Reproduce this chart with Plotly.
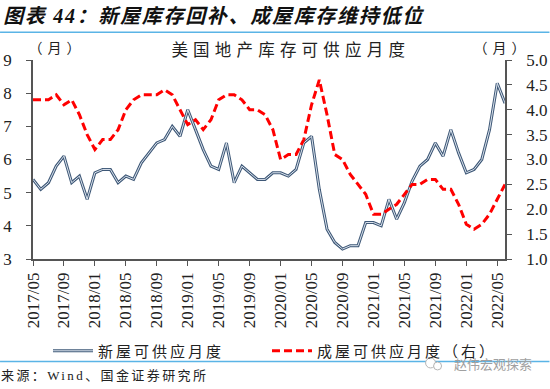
import plotly.graph_objects as go

months = [f"{y}/{m:02d}" for y in range(2017, 2023) for m in range(1, 13)][4:66]
new_home = [5.4,5.1,5.3,5.8,6.1,5.3,5.5,4.8,5.6,5.7,5.7,5.3,5.5,5.4,5.9,6.2,6.5,6.6,7.0,6.7,
            7.5,6.9,6.3,5.8,5.7,6.5,5.3,5.8,5.6,5.4,5.4,5.6,5.6,5.5,5.7,6.5,6.7,5.1,3.9,3.5,
            3.3,3.4,3.4,4.1,4.1,4.0,4.8,4.2,4.7,5.35,5.8,6.0,6.5,6.1,6.9,6.2,5.6,5.7,6.0,6.9,8.3,7.7]
existing = [4.2,4.2,4.2,4.3,4.1,4.2,3.9,3.5,3.2,3.4,3.4,3.6,4.0,4.2,4.3,4.3,4.3,4.4,4.3,4.0,
            3.7,3.8,3.6,3.8,4.2,4.3,4.3,4.2,4.0,4.0,3.9,3.6,3.0,3.1,3.1,3.4,4.1,4.6,3.9,3.1,
            3.0,2.7,2.5,2.3,1.9,1.9,2.0,2.1,2.3,2.5,2.5,2.6,2.6,2.4,2.4,2.1,1.7,1.6,1.7,1.9,2.2,2.5]
x_ticks = months[::4]

W, H = 550, 389
L, R, T, B = 33, 505.5, 59.5, 259.5
SERIF = "Liberation Serif, Noto Sans CJK SC"
CJK = "Noto Sans CJK SC"
AXIS = "#555555"
BLUE = "#5AB4E6"
px = lambda v: (v - L) / (R - L)
py = lambda v: (B - v) / (B - T)

fig = go.Figure()
fig.add_trace(go.Scatter(x=months, y=new_home, name="新屋可供应月度", mode="lines",
                         line=dict(color="#3E5877", width=3)))
fig.add_trace(go.Scatter(x=months, y=new_home, showlegend=False, hoverinfo="skip", mode="lines",
                         line=dict(color="#DCE4EE", width=1)))
fig.add_trace(go.Scatter(x=months, y=existing, name="成屋可供应月度（右）", mode="lines", yaxis="y2",
                         line=dict(color="#FF0000", width=3, dash="8px,4px")))

spacing = []
def note(text, x, y, size, anchor="center", color="#222222", family=SERIF, ls=0):
    fig.add_annotation(text=text, x=px(x), y=py(y), xref="paper", yref="paper", showarrow=False,
                       xanchor=anchor, yanchor="middle", font=dict(size=size, color=color, family=family))
    spacing.append(ls)

note("<b><i>图表 44：新屋库存回补、成屋库存维持低位</i></b>", 215, 15, 20, color="#111111", ls=1.7)
note("美国地产库存可供应月度", 291.5, 50, 16.5, ls=5.2)
note("（月）", 57.5, 48, 14, ls=5)
note("（月）", 502, 48, 14, ls=5)
note("来源：Wind、国金证券研究所", 105, 377, 13, ls=2.4)
note("赵伟宏观探索", 452, 365, 13, "left", color="#A0A0A0", family=CJK)

for yy in (31.5, 362.5):
    fig.add_shape(type="line", xref="paper", yref="paper", x0=px(0), x1=px(W), y0=py(yy), y1=py(yy),
                  line=dict(color=BLUE, width=1.5))
for (cx, cy, r) in ((431, 364, 5), (438, 367, 4)):
    fig.add_shape(type="circle", xref="paper", yref="paper", x0=px(cx-r), x1=px(cx+r), y0=py(cy-r), y1=py(cy+r),
                  line=dict(color="#B5B5B5", width=1), fillcolor="white")

axis_common = dict(showgrid=False, zeroline=False, showline=True, linecolor=AXIS, linewidth=1.5,
                   ticks="outside", tickcolor=AXIS, ticklen=5, tickwidth=1.2,
                   tickfont=dict(family="Liberation Serif", size=17, color="#222222"))
fig.update_layout(
    width=W, height=H, margin=dict(l=L, r=W-R, t=T, b=H-B, autoexpand=False),
    paper_bgcolor="white", plot_bgcolor="white", font=dict(family=SERIF),
    xaxis=dict(type="category", categoryorder="array", categoryarray=months, range=[0, len(months)-1],
               tickmode="array", tickvals=x_ticks, ticktext=x_ticks, tickangle=-90, **axis_common),
    yaxis=dict(range=[3, 9], dtick=1, ticklabelstandoff=11, **axis_common),
    yaxis2=dict(range=[1, 5], dtick=0.5, tickformat=".1f", overlaying="y", side="right",
                ticklabelstandoff=11, **axis_common),
    legend=dict(orientation="h", x=px(48), y=py(352), xanchor="left", yanchor="middle",
                font=dict(family=CJK, size=15, color="#222222"), itemwidth=40,
                entrywidth=164, bgcolor="rgba(0,0,0,0)"),
    showlegend=True,
)
post = """
document.body.style.margin = '0';
var ls = %s;
document.querySelectorAll('.annotation-text').forEach(function (t, i) {
  if (ls[i]) t.style.letterSpacing = ls[i] + 'px';
});
document.querySelectorAll('.legendtext').forEach(function (t) { t.style.letterSpacing = '3px'; });
var key = document.querySelector('.legendlines path');
if (key) {
  var core = key.cloneNode(true);
  core.style.stroke = '#DCE4EE';
  core.style.strokeWidth = '1px';
  key.parentNode.appendChild(core);
}
""" % spacing
fig.write_html("out.html", post_script=post, config={"displayModeBar": False})
